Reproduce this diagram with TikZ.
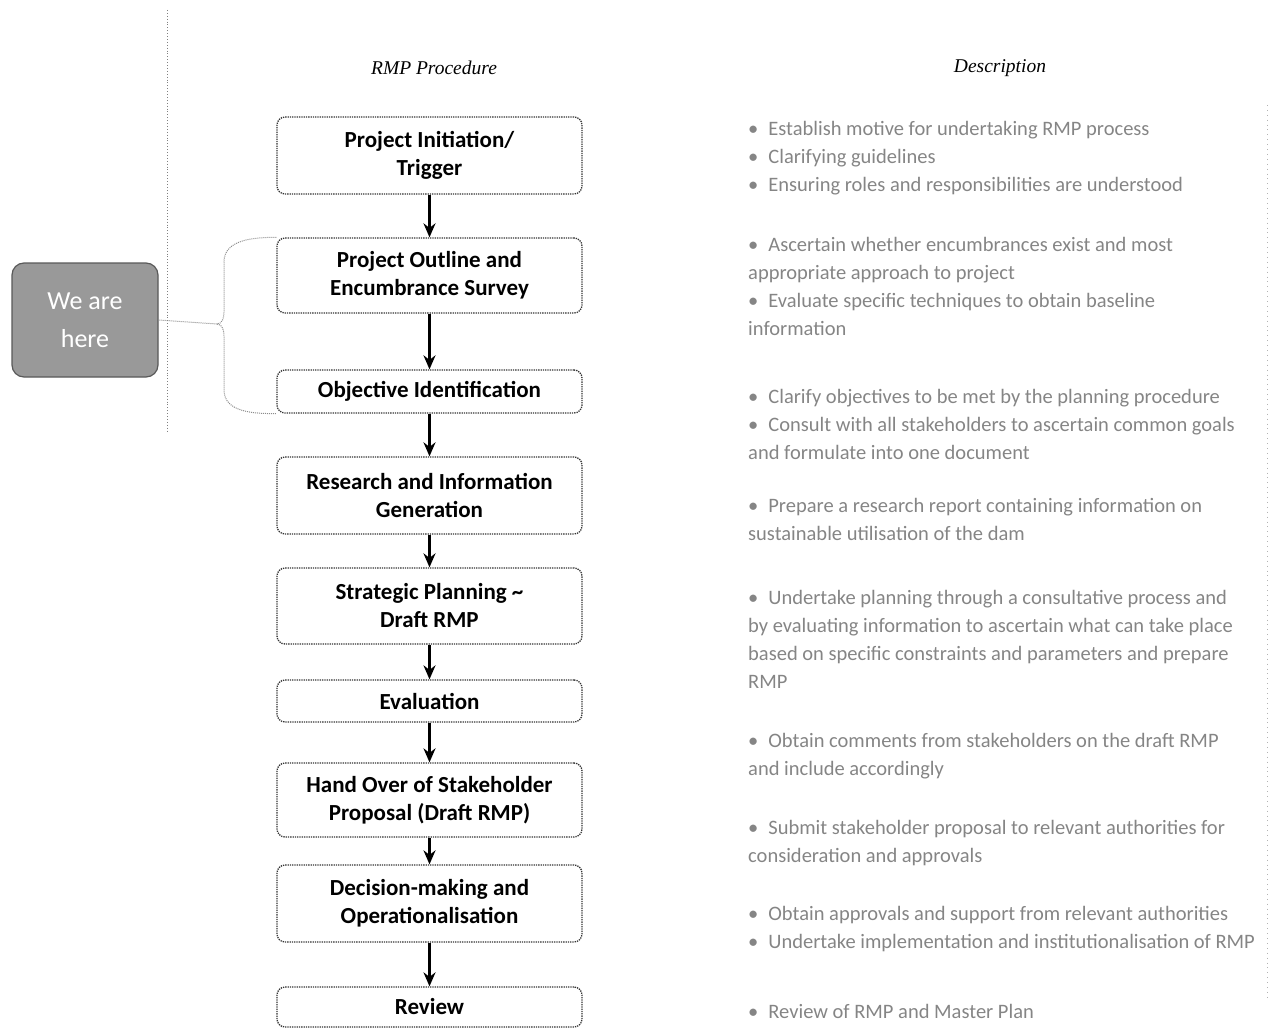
\documentclass[tikz,border=0pt]{standalone}
\usepackage{fontspec}
\usepackage{xcolor}
\usepackage{tikz}
\usetikzlibrary{positioning,calc,arrows.meta}
\newfontfamily\stepfont{Carlito}
\newfontfamily\headfont{Liberation Serif}

\begin{document}
\begin{tikzpicture}[x=1pt,y=-1pt,
    stepbox/.style={draw=black!80, densely dotted, line width=1.3pt, rounded corners=8pt,
      minimum width=305pt, align=center, inner sep=0pt,
      font=\stepfont\bfseries\fontsize{23}{28}\selectfont},
    descnote/.style={anchor=west, align=left, inner sep=0pt, text=black!48,
      font=\stepfont\fontsize{20.5}{28}\selectfont},
    colhead/.style={font=\headfont\itshape\fontsize{19.5}{22}\selectfont},
    flowarrow/.style={-{Stealth[length=14pt,width=12pt]}, line width=2.6pt},
    bracepath/.style={draw=black!45, densely dotted, line width=1pt},
    guideline/.style={draw=black!50, dotted, line width=0.9pt}]
    \useasboundingbox (0,0) rectangle (1288,1030);

    % Guide lines
    \draw[guideline] (167,10) -- (167,432);
    \draw[guideline, black!30, loosely dotted] (1267,105) -- (1267,1000);

    % Headings
    \node[colhead] (prochead) at (434,68) {RMP Procedure};
    \node[colhead] (deschead) at (1000,68) {Description};

    % Procedure steps
    \node[stepbox, minimum height=77pt] (init) at (429.5,155.5) {Project Initiation/\\Trigger};
    \node[stepbox, minimum height=75pt] (outline) at (429.5,275.5) {Project Outline and\\Encumbrance Survey};
    \node[stepbox, minimum height=43pt] (objective) at (429.5,391.5) {Objective Identification};
    \node[stepbox, minimum height=77pt] (research) at (429.5,495.5) {Research and Information\\Generation};
    \node[stepbox, minimum height=76pt] (strategic) at (429.5,606) {Strategic Planning \textasciitilde\\Draft RMP};
    \node[stepbox, minimum height=42pt] (evaluation) at (429.5,701) {Evaluation};
    \node[stepbox, minimum height=74pt] (handover) at (429.5,800) {Hand Over of Stakeholder\\Proposal (Draft RMP)};
    \node[stepbox, minimum height=77pt] (decision) at (429.5,903.5) {Decision-making and\\Operationalisation};
    \node[stepbox, minimum height=40pt] (review) at (429.5,1007) {Review};

    % Arrows
    \foreach \a/\b in {init/outline, outline/objective, objective/research, research/strategic,
        strategic/evaluation, evaluation/handover, handover/decision, decision/review}
        \draw[flowarrow] (\a) -- (\b);

    % We are here
    \node[fill=black!40, draw=black!65, line width=1.2pt, rounded corners=12pt, minimum width=146pt,
      minimum height=114pt, inner sep=0pt, align=center, text=white,
      font=\stepfont\fontsize{26}{38}\selectfont] (here) at (85,320) {We are\\here};
    \coordinate (tip) at (217,324);
    \draw[bracepath] (outline.north west) to[out=180,in=90] (224,262) -- (224,312) to[out=270,in=0] (tip);
    \draw[bracepath] (tip) to[out=0,in=90] (224,336) -- (224,390) to[out=270,in=180] (objective.south west);
    \draw[bracepath] (here.east) -- (tip);

    % Descriptions
    \node[descnote] (dinit) at (748,158) {\textbullet\hspace{10pt}Establish motive for undertaking RMP process\\
      \textbullet\hspace{10pt}Clarifying guidelines\\
      \textbullet\hspace{10pt}Ensuring roles and responsibilities are understood};
    \node[descnote] (doutline) at (748,286) {\textbullet\hspace{10pt}Ascertain whether encumbrances exist and most\\
      appropriate approach to project\\
      \textbullet\hspace{10pt}Evaluate specific techniques to obtain baseline\\
      information};
    \node[descnote] (dobjective) at (748,424) {\textbullet\hspace{10pt}Clarify objectives to be met by the planning procedure\\
      \textbullet\hspace{10pt}Consult with all stakeholders to ascertain common goals\\
      and formulate into one document};
    \node[descnote] (dresearch) at (748,519) {\textbullet\hspace{10pt}Prepare a research report containing information on\\
      sustainable utilisation of the dam};
    \node[descnote] (dstrategic) at (748,639) {\textbullet\hspace{10pt}Undertake planning through a consultative process and\\
      by evaluating information to ascertain what can take place\\
      based on specific constraints and parameters and prepare\\
      RMP};
    \node[descnote] (devaluation) at (748,756) {\textbullet\hspace{10pt}Obtain comments from stakeholders on the draft RMP\\
      and include accordingly};
    \node[descnote] (dhandover) at (748,843) {\textbullet\hspace{10pt}Submit stakeholder proposal to relevant authorities for\\
      consideration and approvals};
    \node[descnote] (ddecision) at (748,929.5) {\textbullet\hspace{10pt}Obtain approvals and support from relevant authorities\\
      \textbullet\hspace{10pt}Undertake implementation and institutionalisation of RMP};
    \node[descnote] (dreview) at (748,1011) {\textbullet\hspace{10pt}Review of RMP and Master Plan};
\end{tikzpicture}
\end{document}
